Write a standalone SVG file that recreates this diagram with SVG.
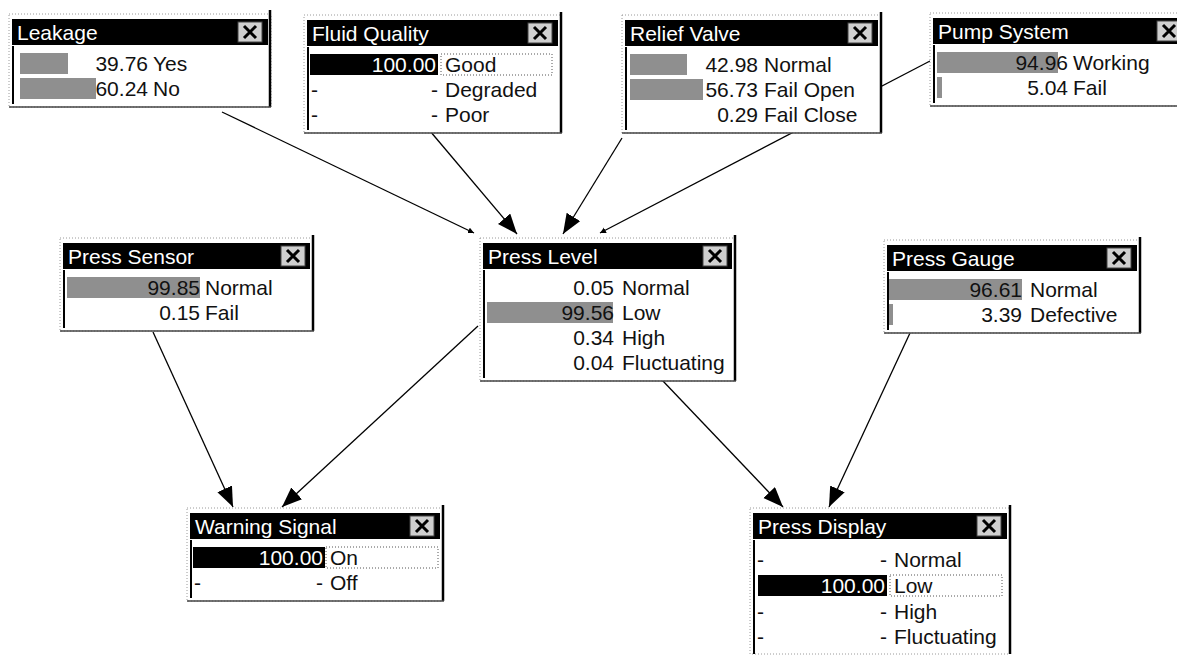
<svg xmlns="http://www.w3.org/2000/svg" width="1177" height="657" viewBox="0 0 1177 657">
<style>
.frame{fill:#fff;stroke:#9a9a9a;stroke-width:1;stroke-dasharray:1 2}
.tbar{fill:#000}
.ttl{font-family:"Liberation Sans",Arial,sans-serif;font-size:21px;fill:#fff}
.cb{fill:#cfcfcf;stroke:#444;stroke-width:1}
.cx{stroke:#000;stroke-width:3;fill:none}
.edge{stroke:#000;stroke-width:2.5}
.bot{stroke:#444;stroke-width:1.5}
.inl{stroke:#000;stroke-width:2}
.t{font-family:"Liberation Sans",Arial,sans-serif;font-size:21px;fill:#111}
.n{font-family:"Liberation Sans",Arial,sans-serif;font-size:21px;fill:#111;text-anchor:end}
.nw{font-family:"Liberation Sans",Arial,sans-serif;font-size:21px;fill:#fff;text-anchor:end}
.g{fill:#8f8f8f}
.k{fill:#000}
.foc{fill:none;stroke:#555;stroke-width:1;stroke-dasharray:1 2}
.ln{stroke:#000;stroke-width:1.3;fill:none}
</style>
<defs>
<marker id="ah" markerUnits="userSpaceOnUse" markerWidth="22" markerHeight="18" refX="20" refY="8" orient="auto">
<path d="M0,0 L20,8 L0,16 z" fill="#000"/>
</marker>
<marker id="ahs" markerUnits="userSpaceOnUse" markerWidth="8" markerHeight="8" refX="6" refY="3" orient="auto">
<path d="M0,0 L6,3 L0,6 z" fill="#000"/>
</marker>
</defs>

<g id="connectors">
<line class="ln" x1="222" y1="112" x2="474" y2="233" marker-end="url(#ahs)"/>
<line class="ln" x1="430" y1="131" x2="517" y2="234" marker-end="url(#ah)"/>
<line class="ln" x1="622" y1="138" x2="563" y2="234" marker-end="url(#ah)"/>
<line class="ln" x1="930" y1="61" x2="600" y2="233" marker-end="url(#ahs)"/>
<line class="ln" x1="153" y1="332" x2="233" y2="507" marker-end="url(#ah)"/>
<line class="ln" x1="478" y1="326" x2="282" y2="507" marker-end="url(#ah)"/>
<line class="ln" x1="662" y1="380" x2="783" y2="507" marker-end="url(#ah)"/>
<line class="ln" x1="910" y1="333" x2="829" y2="507" marker-end="url(#ah)"/>
</g>

<g id="leakage">
<rect class="frame" x="9" y="14" width="262" height="93"/>
<rect class="tbar" x="12" y="19" width="256" height="26"/>
<text class="ttl" x="17" y="40">Leakage</text>
<rect class="cb" x="238" y="22" width="24" height="20"/>
<path class="cx" d="M244,26 L256,38 M256,26 L244,38"/>
<line class="edge" x1="270" y1="10" x2="270" y2="107"/>
<line class="bot" x1="9" y1="107" x2="271" y2="107"/>
<line class="inl" x1="13" y1="46" x2="13" y2="104"/>
<rect class="g" x="20" y="53" width="48" height="21"/>
<text class="n" x="148" y="71">39.76</text><text class="t" x="153" y="71">Yes</text>
<rect class="g" x="20" y="78" width="76" height="21"/>
<text class="n" x="148" y="96">60.24</text><text class="t" x="153" y="96">No</text>
</g>

<g id="fluid-quality">
<rect class="frame" x="304" y="15" width="257" height="118"/>
<rect class="tbar" x="307" y="20" width="251" height="26"/>
<text class="ttl" x="312" y="41">Fluid Quality</text>
<rect class="cb" x="528" y="23" width="24" height="20"/>
<path class="cx" d="M534,27 L546,39 M546,27 L534,39"/>
<line class="edge" x1="561" y1="12" x2="561" y2="133"/>
<line class="bot" x1="304" y1="133" x2="562" y2="133"/>
<line class="inl" x1="308" y1="47" x2="308" y2="130"/>
<rect class="k" x="310" y="54" width="128" height="21"/>
<text class="nw" x="436" y="72">100.00</text>
<rect class="foc" x="441" y="54" width="111" height="21"/>
<text class="t" x="445" y="72">Good</text>
<text class="t" x="311" y="97">-</text><text class="n" x="438" y="97">-</text><text class="t" x="445" y="97">Degraded</text>
<text class="t" x="311" y="122">-</text><text class="n" x="438" y="122">-</text><text class="t" x="445" y="122">Poor</text>
</g>

<g id="relief-valve">
<rect class="frame" x="622" y="15" width="259" height="118"/>
<rect class="tbar" x="625" y="20" width="253" height="26"/>
<text class="ttl" x="630" y="41">Relief Valve</text>
<rect class="cb" x="848" y="23" width="24" height="20"/>
<path class="cx" d="M854,27 L866,39 M866,27 L854,39"/>
<line class="edge" x1="881" y1="12" x2="881" y2="133"/>
<line class="bot" x1="622" y1="133" x2="882" y2="133"/>
<line class="inl" x1="626" y1="47" x2="626" y2="130"/>
<rect class="g" x="630" y="54" width="57" height="21"/>
<text class="n" x="758" y="72">42.98</text><text class="t" x="764" y="72">Normal</text>
<rect class="g" x="630" y="79" width="73" height="21"/>
<text class="n" x="758" y="97">56.73</text><text class="t" x="764" y="97">Fail Open</text>
<text class="n" x="758" y="122">0.29</text><text class="t" x="764" y="122">Fail Close</text>
</g>

<g id="pump-system">
<rect class="frame" x="930" y="13" width="262" height="93"/>
<rect class="tbar" x="933" y="18" width="260" height="26"/>
<text class="ttl" x="938" y="39">Pump System</text>
<rect class="cb" x="1157" y="21" width="24" height="20"/>
<path class="cx" d="M1163,25 L1175,37 M1175,25 L1163,37"/>
<line class="bot" x1="930" y1="106" x2="1177" y2="106"/>
<line class="inl" x1="934" y1="45" x2="934" y2="103"/>
<rect class="g" x="937" y="52" width="121" height="21"/>
<text class="n" x="1068" y="70">94.96</text><text class="t" x="1073" y="70">Working</text>
<rect class="g" x="937" y="77" width="5" height="21"/>
<text class="n" x="1068" y="95">5.04</text><text class="t" x="1073" y="95">Fail</text>
</g>

<g id="press-level">
<rect class="frame" x="480" y="238" width="255" height="143"/>
<rect class="tbar" x="483" y="243" width="249" height="26"/>
<text class="ttl" x="488" y="264">Press Level</text>
<rect class="cb" x="703" y="246" width="24" height="20"/>
<path class="cx" d="M709,250 L721,262 M721,250 L709,262"/>
<line class="edge" x1="735" y1="235" x2="735" y2="381"/>
<line class="bot" x1="480" y1="381" x2="736" y2="381"/>
<line class="inl" x1="484" y1="270" x2="484" y2="378"/>
<text class="n" x="614" y="295">0.05</text><text class="t" x="622" y="295">Normal</text>
<rect class="g" x="487" y="302" width="126" height="21"/>
<text class="n" x="614" y="320">99.56</text><text class="t" x="622" y="320">Low</text>
<text class="n" x="614" y="345">0.34</text><text class="t" x="622" y="345">High</text>
<text class="n" x="614" y="370">0.04</text><text class="t" x="622" y="370">Fluctuating</text>
</g>

<g id="press-sensor">
<rect class="frame" x="60" y="238" width="253" height="93"/>
<rect class="tbar" x="63" y="243" width="247" height="26"/>
<text class="ttl" x="68" y="264">Press Sensor</text>
<rect class="cb" x="281" y="246" width="24" height="20"/>
<path class="cx" d="M287,250 L299,262 M299,250 L287,262"/>
<line class="edge" x1="313" y1="235" x2="313" y2="331"/>
<line class="bot" x1="60" y1="331" x2="314" y2="331"/>
<line class="inl" x1="64" y1="270" x2="64" y2="328"/>
<rect class="g" x="67" y="277" width="133" height="21"/>
<text class="n" x="200" y="295">99.85</text><text class="t" x="205" y="295">Normal</text>
<text class="n" x="200" y="320">0.15</text><text class="t" x="205" y="320">Fail</text>
</g>

<g id="press-gauge">
<rect class="frame" x="884" y="240" width="256" height="93"/>
<rect class="tbar" x="887" y="245" width="250" height="26"/>
<text class="ttl" x="892" y="266">Press Gauge</text>
<rect class="cb" x="1107" y="248" width="24" height="20"/>
<path class="cx" d="M1113,252 L1125,264 M1125,252 L1113,264"/>
<line class="edge" x1="1140" y1="237" x2="1140" y2="333"/>
<line class="bot" x1="884" y1="333" x2="1141" y2="333"/>
<line class="inl" x1="888" y1="272" x2="888" y2="330"/>
<rect class="g" x="889" y="279" width="133" height="21"/>
<text class="n" x="1022" y="297">96.61</text><text class="t" x="1030" y="297">Normal</text>
<rect class="g" x="889" y="304" width="4" height="21"/>
<text class="n" x="1022" y="322">3.39</text><text class="t" x="1030" y="322">Defective</text>
</g>

<g id="warning-signal">
<rect class="frame" x="187" y="508" width="256" height="93"/>
<rect class="tbar" x="190" y="513" width="250" height="26"/>
<text class="ttl" x="195" y="534">Warning Signal</text>
<rect class="cb" x="410" y="516" width="24" height="20"/>
<path class="cx" d="M416,520 L428,532 M428,520 L416,532"/>
<line class="edge" x1="443" y1="505" x2="443" y2="601"/>
<line class="bot" x1="187" y1="601" x2="444" y2="601"/>
<line class="inl" x1="191" y1="540" x2="191" y2="598"/>
<rect class="k" x="193" y="547" width="132" height="21"/>
<text class="nw" x="323" y="565">100.00</text>
<rect class="foc" x="326" y="547" width="112" height="21"/>
<text class="t" x="330" y="565">On</text>
<text class="t" x="194" y="590">-</text><text class="n" x="323" y="590">-</text><text class="t" x="330" y="590">Off</text>
</g>

<g id="press-display">
<rect class="frame" x="750" y="508" width="260" height="146"/>
<rect class="tbar" x="753" y="513" width="254" height="26"/>
<text class="ttl" x="758" y="534">Press Display</text>
<rect class="cb" x="977" y="516" width="24" height="20"/>
<path class="cx" d="M983,520 L995,532 M995,520 L983,532"/>
<line class="edge" x1="1010" y1="505" x2="1010" y2="654"/>
<line class="inl" x1="754" y1="540" x2="754" y2="654"/>
<text class="t" x="757" y="567">-</text><text class="n" x="887" y="567">-</text><text class="t" x="894" y="567">Normal</text>
<rect class="k" x="758" y="575" width="129" height="21"/>
<text class="nw" x="885" y="593">100.00</text>
<rect class="foc" x="890" y="575" width="112" height="21"/>
<text class="t" x="894" y="593">Low</text>
<text class="t" x="757" y="619">-</text><text class="n" x="887" y="619">-</text><text class="t" x="894" y="619">High</text>
<text class="t" x="757" y="644">-</text><text class="n" x="887" y="644">-</text><text class="t" x="894" y="644">Fluctuating</text>
</g>
</svg>
